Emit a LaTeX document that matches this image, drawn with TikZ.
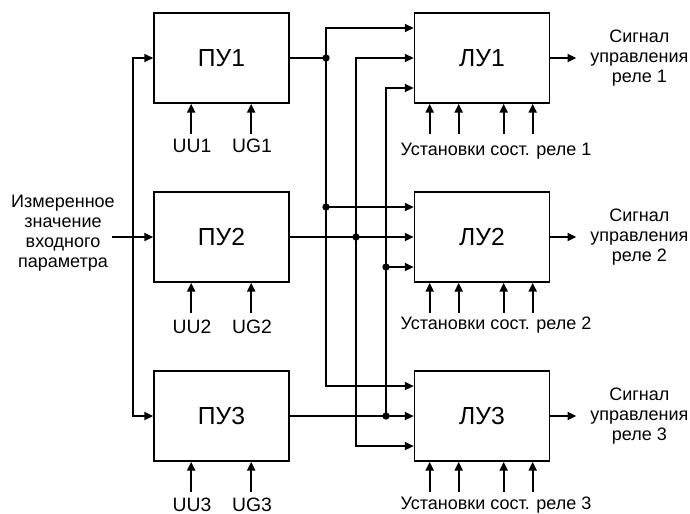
\documentclass[tikz,border=0pt]{standalone}
\usepackage{fontspec}
\setmainfont{Liberation Sans}
\usetikzlibrary{arrows.meta,calc}
\begin{document}
\begin{tikzpicture}[x=0.75pt,y=-0.75pt,
  box/.style={draw,line width=1.3pt,minimum width=101.25pt,minimum height=67.5pt,inner sep=0pt,font=\fontsize{18.5}{22}\selectfont},
  arr/.style={line width=1.3pt,-{Triangle[length=6.5pt,width=6pt]}},
  ln/.style={line width=1.3pt},
  lbl/.style={font=\fontsize{13.5}{15}\selectfont,align=center,inner sep=0pt},
  dot/.style={circle,fill,inner sep=0pt,minimum size=5.5pt}]
\useasboundingbox (0,0) rectangle (690,514);
% boxes
\node[box] (P1) at (221.5,58) {ПУ1};
\node[box] (P2) at (221.5,237) {ПУ2};
\node[box] (P3) at (221.5,416) {ПУ3};
\node[box] (L1) at (482,58) {ЛУ1};
\node[box] (L2) at (482,237) {ЛУ2};
\node[box] (L3) at (482,416) {ЛУ3};
% input label
\node[lbl] (IL) at (63,233) {Измеренное\\значение\\входного\\параметра};
\coordinate (IN) at (112,237);
\coordinate (J) at (133,237);
\draw[arr] (IN) -- (P2.west);
\draw[arr] (J) |- (P1.west);
\draw[arr] (J) |- (P3.west);
% LU input points
\foreach \i in {1,2,3}{
  \coordinate (L\i a) at ($(L\i.west)+(0,-30)$);
  \coordinate (L\i b) at (L\i.west);
  \coordinate (L\i c) at ($(L\i.west)+(0,30)$);
}
% bus 1 (x=326)
\coordinate (B1) at (326,58);
\coordinate (D12) at (326,207);
\draw[ln] (P1.east) -- (B1);
\draw[arr] (B1) |- (L1a);
\draw[arr] (B1) |- (L3a);
\draw[arr] (D12) -- (L2a);
% bus 2 (x=356)
\coordinate (B2) at (356,237);
\draw[arr] (P2.east) -- (L2b);
\draw[arr] (B2) |- (L1b);
\draw[arr] (B2) |- (L3c);
% bus 3 (x=386)
\coordinate (B3) at (386,416);
\coordinate (D32) at (386,267);
\draw[arr] (P3.east) -- (L3b);
\draw[arr] (B3) |- (L1c);
\draw[arr] (D32) -- (L2c);
% dots
\foreach \p in {B1,D12,B2,B3,D32} \node[dot] at (\p) {};
% outputs
\foreach \i in {1,2,3}{
  \coordinate (O\i) at ($(L\i.east)+(26,0)$);
  \draw[arr] (L\i.east) -- (O\i);
  \node[lbl] (S\i) at ($(L\i.east)+(89,0)$) {Сигнал\\управления\\реле \i};
}
% bottom arrows PU
\foreach \i/\y in {1/146,2/327,3/505}{
  \foreach \dx/\nm in {38/U,98/G}{
    \coordinate (PT\i\nm) at ($(P\i.south west)+(\dx,0)$);
    \coordinate (PB\i\nm) at ($(P\i.south west)+(\dx,30)$);
    \draw[arr] (PB\i\nm) -- (PT\i\nm);
  }
  \node[lbl,font=\fontsize{14.5}{16}\selectfont] (UU\i) at (192,\y) {UU\i};
  \node[lbl,font=\fontsize{14.5}{16}\selectfont] (UG\i) at (252,\y) {UG\i};
}
% bottom arrows LU
\foreach \i/\y in {1/151,2/325,3/505}{
  \foreach \dx/\nm in {16/a,45/b,90/c,119/d}{
    \coordinate (LT\i\nm) at ($(L\i.south west)+(\dx,0)$);
    \coordinate (LB\i\nm) at ($(L\i.south west)+(\dx,30)$);
    \draw[arr] (LB\i\nm) -- (LT\i\nm);
  }
  \node[lbl] (US\i) at (496,\y) {Установки сост. реле \i};
}
\end{tikzpicture}
\end{document}
